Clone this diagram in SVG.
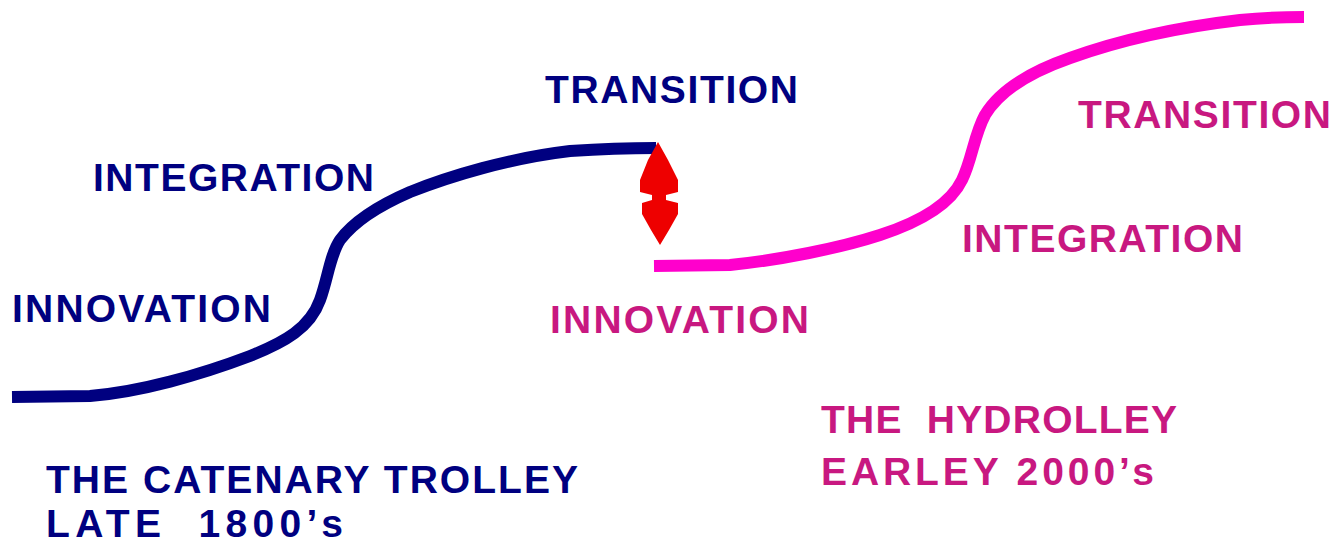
<svg xmlns="http://www.w3.org/2000/svg" width="1334" height="546" viewBox="0 0 1334 546">
<style>
  .lbl { font-family: "Liberation Sans", Arial, sans-serif; font-weight: bold; font-size: 39px; white-space: pre; }
  .blue { fill: #000080; }
  .pink { fill: #C81880; }
  .curve { fill: none; stroke-width: 12; stroke-linejoin: round; stroke-linecap: butt; }
</style>
<rect x="0" y="0" width="1334" height="546" fill="#FFFFFF"/>
<g id="connectors">
  <path id="catenary-curve" class="curve" stroke="#000080" d="M12,397 L90,396 C140,392 200,375 250,356 C285,342 310,328 320,300 C328,278 330,255 340,240 C355,220 380,205 410,192 C450,176 510,158 570,151 C600,149 630,148 656,148"/>
  <path id="hydrolley-curve" class="curve" stroke="#FF00CC" d="M654,266 L730,265 C780,260 840,248 880,235 C920,222 950,205 962,180 C972,160 974,135 985,115 C1000,90 1030,72 1070,58 C1120,40 1180,27 1240,20 C1270,17 1290,17 1304,17"/>
  <polygon id="transition-arrow" fill="#EE0000" points="658,142 668,160 678,180 678,192 666,195 666,200 678,203 678,214 669,230 660,245 651,230 642,214 642,203 652,200 652,195 640,192 640,180 648,160"/>
</g>
<g id="blue-transition"><text class="lbl blue" x="545" y="103" textLength="253" lengthAdjust="spacing">TRANSITION</text></g>
<g id="blue-integration"><text class="lbl blue" x="93" y="191" textLength="281" lengthAdjust="spacing">INTEGRATION</text></g>
<g id="blue-innovation"><text class="lbl blue" x="12" y="322" textLength="259" lengthAdjust="spacing">INNOVATION</text></g>
<g id="pink-transition"><text class="lbl pink" x="1078" y="128" textLength="253" lengthAdjust="spacing">TRANSITION</text></g>
<g id="pink-integration"><text class="lbl pink" x="962" y="252" textLength="281" lengthAdjust="spacing">INTEGRATION</text></g>
<g id="pink-innovation"><text class="lbl pink" x="550" y="333" textLength="259" lengthAdjust="spacing">INNOVATION</text></g>
<g id="catenary-title">
  <text class="lbl blue" x="46" y="493" textLength="532" lengthAdjust="spacing">THE CATENARY TROLLEY</text>
  <text class="lbl blue" x="46" y="537" textLength="297" lengthAdjust="spacing">LATE  1800’s</text>
</g>
<g id="hydrolley-title">
  <text class="lbl pink" x="821" y="433" textLength="356" lengthAdjust="spacing">THE  HYDROLLEY</text>
  <text class="lbl pink" x="821" y="485" textLength="333" lengthAdjust="spacing">EARLEY 2000’s</text>
</g>
</svg>
